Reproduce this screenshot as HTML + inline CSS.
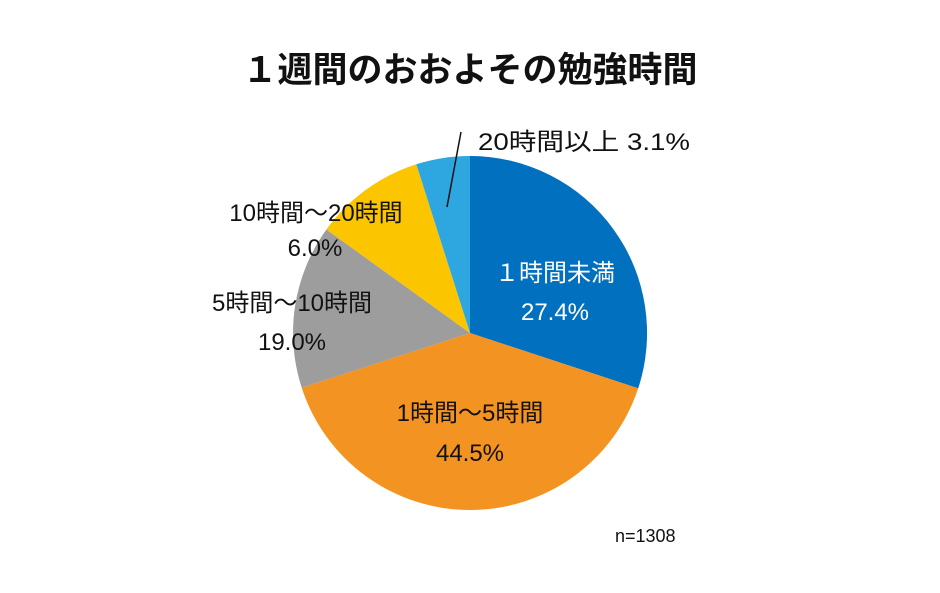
<!DOCTYPE html>
<html><head><meta charset="utf-8"><style>
html,body{margin:0;padding:0;background:#fff;}
svg text{font-family:"Liberation Sans","Noto Sans CJK JP",sans-serif;}
</style></head><body>
<svg width="940" height="588" viewBox="0 0 940 588" xmlns="http://www.w3.org/2000/svg">
<rect width="940" height="588" fill="#fff"/>
<text x="470" y="82" text-anchor="middle" font-size="35" font-weight="bold" fill="#111">１週間のおおよその勉強時間</text>
<g>
<path d="M470,333 L470,156 A177,177 0 0 1 638.2,388.3 Z" fill="#0070bf"/>
<path d="M470,333 L638.2,388.3 A177,177 0 0 1 301.7,387.7 Z" fill="#f39322"/>
<path d="M470,333 L301.7,387.7 A177,177 0 0 1 326.4,229.5 Z" fill="#9d9d9d"/>
<path d="M470,333 L326.4,229.5 A177,177 0 0 1 416.3,164.3 Z" fill="#fbc500"/>
<path d="M470,333 L416.3,164.3 A177,177 0 0 1 470,156 Z" fill="#2ea7e0"/>
</g>
<line x1="447" y1="207" x2="461" y2="132" stroke="#111" stroke-width="1.5"/>
<g font-size="24" fill="#111">
<text x="478" y="150" textLength="212" lengthAdjust="spacingAndGlyphs">20時間以上 3.1%</text>
<text x="555" y="281" text-anchor="middle" fill="#fff">１時間未満</text>
<text x="555" y="320" text-anchor="middle" fill="#fff">27.4%</text>
<text x="470" y="421" text-anchor="middle">1時間～5時間</text>
<text x="470" y="461" text-anchor="middle">44.5%</text>
<text x="292" y="311" text-anchor="middle">5時間～10時間</text>
<text x="292" y="350" text-anchor="middle">19.0%</text>
<text x="316" y="221" text-anchor="middle">10時間～20時間</text>
<text x="315" y="256" text-anchor="middle">6.0%</text>
</g>
<text x="615" y="542" font-size="18" fill="#111">n=1308</text>
</svg>
</body></html>
